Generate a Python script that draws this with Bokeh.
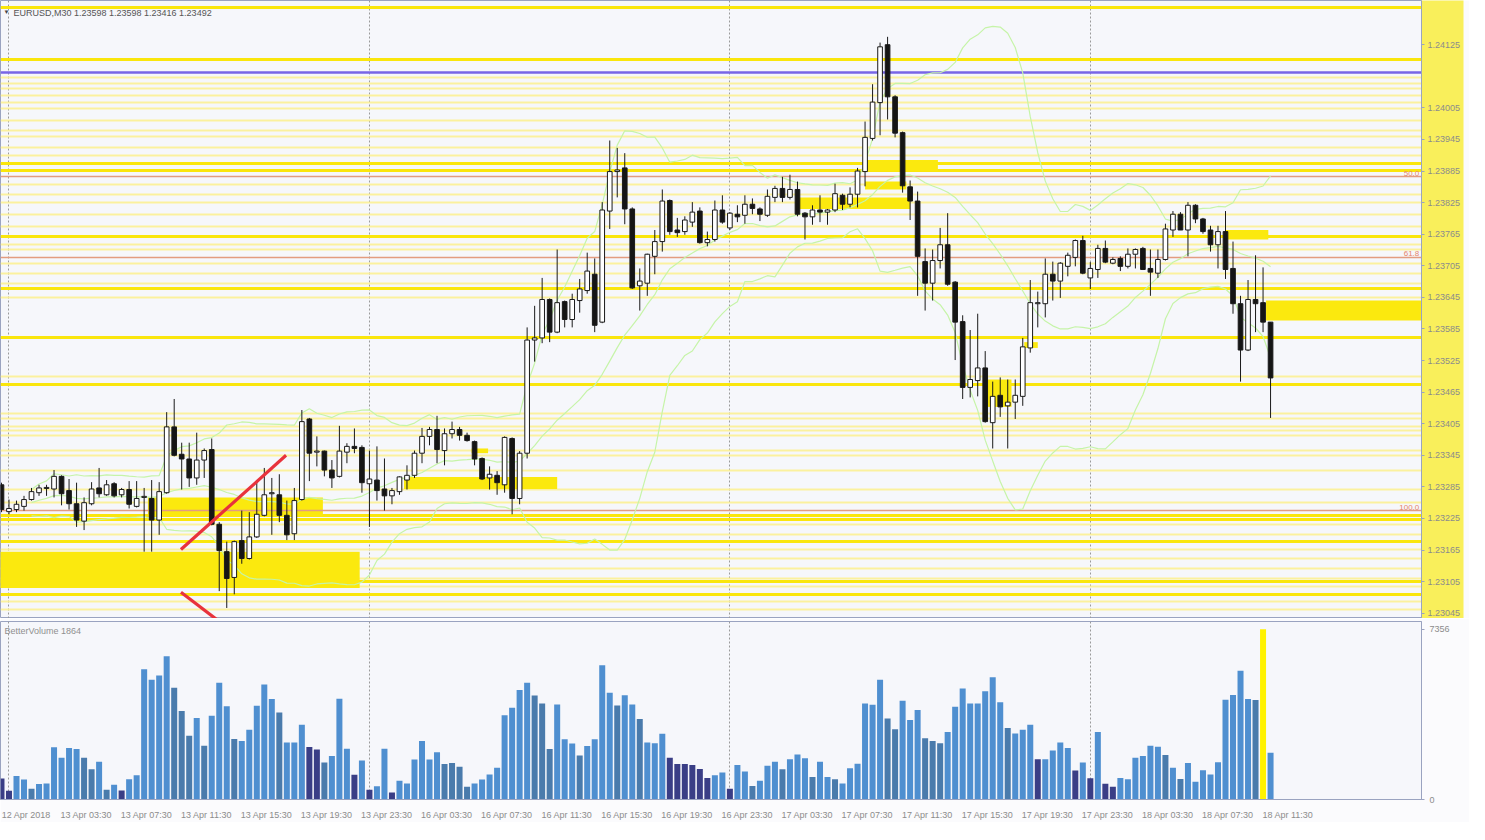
import numpy as np
import pandas as pd
from bokeh.plotting import figure
from bokeh.models import Range1d, FixedTicker, PrintfTickFormatter, Label, ColumnDataSource
from bokeh.layouts import column
from bokeh.embed import file_html
from bokeh.resources import INLINE
from bokeh.core.properties import value

SYMBOL = "EURUSD,M30"
VOLUME_NAME = "BetterVolume 1864"

opens = [1.23289, 1.23238, 1.23242, 1.23248, 1.23261, 1.23274, 1.23282, 1.23281, 1.23305, 1.23278,
         1.23253, 1.23220, 1.23253, 1.23283, 1.23270, 1.23291, 1.23270, 1.23280, 1.23248, 1.23265,
         1.23263, 1.23222, 1.23274, 1.23399, 1.23347, 1.23338, 1.23302, 1.23336, 1.23356, 1.23214,
         1.23162, 1.23113, 1.23183, 1.23149, 1.23190, 1.23231, 1.23272, 1.23270, 1.23231, 1.23196,
         1.23261, 1.23414, 1.23351, 1.23353, 1.23317, 1.23305, 1.23351, 1.23362, 1.23360, 1.23291,
         1.23298, 1.23281, 1.23268, 1.23276, 1.23298, 1.23307, 1.23349, 1.23381, 1.23394, 1.23354,
         1.23386, 1.23394, 1.23383, 1.23371, 1.23339, 1.23302, 1.23307, 1.23289, 1.23377, 1.23263,
         1.23349, 1.23564, 1.23568, 1.23641, 1.23579, 1.23637, 1.23603, 1.23639, 1.23658, 1.23689,
         1.23598, 1.23809, 1.23884, 1.23891, 1.23813, 1.23667, 1.23672, 1.23723, 1.23751, 1.23829,
         1.23773, 1.23770, 1.23788, 1.23809, 1.23749, 1.23755, 1.23811, 1.23777, 1.23803, 1.23801,
         1.23822, 1.23813, 1.23801, 1.23835, 1.23852, 1.23835, 1.23850, 1.23805, 1.23798, 1.23811,
         1.23807, 1.23811, 1.23839, 1.23822, 1.23841, 1.23884, 1.23947, 1.24015, 1.24125, 1.24026,
         1.23958, 1.23855, 1.23828, 1.23713, 1.23672, 1.23715, 1.23745, 1.23674, 1.23599, 1.23474,
         1.23487, 1.23511, 1.23407, 1.23459, 1.23439, 1.23446, 1.23457, 1.23549, 1.23633, 1.23633,
         1.23689, 1.23676, 1.23704, 1.23721, 1.23753, 1.23682, 1.23698, 1.23738, 1.23710, 1.23719,
         1.23704, 1.23727, 1.23738, 1.23700, 1.23691, 1.23717, 1.23773, 1.23803, 1.23773, 1.23820,
         1.23794, 1.23773, 1.23745, 1.23770, 1.23700, 1.23633, 1.23545, 1.23641, 1.23635, 1.23598]
highs = [1.23293, 1.23261, 1.23259, 1.23268, 1.23283, 1.23289, 1.23289, 1.23317, 1.23307, 1.23300,
         1.23293, 1.23265, 1.23294, 1.23321, 1.23298, 1.23294, 1.23283, 1.23296, 1.23296, 1.23283,
         1.23298, 1.23294, 1.23427, 1.23452, 1.23369, 1.23369, 1.23388, 1.23358, 1.23377, 1.23218,
         1.23181, 1.23183, 1.23240, 1.23237, 1.23298, 1.23321, 1.23302, 1.23309, 1.23259, 1.23283,
         1.23431, 1.23416, 1.23381, 1.23354, 1.23336, 1.23401, 1.23368, 1.23396, 1.23364, 1.23354,
         1.23362, 1.23339, 1.23283, 1.23305, 1.23326, 1.23354, 1.23397, 1.23399, 1.23420, 1.23396,
         1.23409, 1.23399, 1.23388, 1.23373, 1.23341, 1.23324, 1.23315, 1.23381, 1.23379, 1.23353,
         1.23588, 1.23629, 1.23682, 1.23643, 1.23736, 1.23639, 1.23652, 1.23680, 1.23730, 1.23719,
         1.23826, 1.23943, 1.23929, 1.23919, 1.23816, 1.23700, 1.23728, 1.23773, 1.23850, 1.23831,
         1.23796, 1.23799, 1.23826, 1.23816, 1.23770, 1.23829, 1.23839, 1.23807, 1.23820, 1.23839,
         1.23833, 1.23816, 1.23850, 1.23857, 1.23874, 1.23878, 1.23865, 1.23807, 1.23820, 1.23839,
         1.23813, 1.23861, 1.23842, 1.23854, 1.23891, 1.23979, 1.24050, 1.24129, 1.24140, 1.24029,
         1.23960, 1.23867, 1.23846, 1.23738, 1.23736, 1.23777, 1.23805, 1.23676, 1.23611, 1.23583,
         1.23614, 1.23543, 1.23485, 1.23493, 1.23489, 1.23489, 1.23568, 1.23678, 1.23656, 1.23719,
         1.23713, 1.23712, 1.23730, 1.23755, 1.23762, 1.23712, 1.23745, 1.23753, 1.23721, 1.23723,
         1.23738, 1.23738, 1.23741, 1.23736, 1.23736, 1.23785, 1.23809, 1.23807, 1.23826, 1.23822,
         1.23796, 1.23781, 1.23781, 1.23809, 1.23751, 1.23648, 1.23678, 1.23725, 1.23702, 1.23598]
lows = [1.23237, 1.23233, 1.23237, 1.23240, 1.23259, 1.23268, 1.23268, 1.23265, 1.23250, 1.23242,
        1.23209, 1.23203, 1.23250, 1.23265, 1.23268, 1.23265, 1.23265, 1.23244, 1.23246, 1.23162,
        1.23162, 1.23194, 1.23272, 1.23343, 1.23280, 1.23285, 1.23289, 1.23302, 1.23212, 1.23087,
        1.23055, 1.23081, 1.23139, 1.23147, 1.23188, 1.23229, 1.23194, 1.23218, 1.23184, 1.23184,
        1.23259, 1.23296, 1.23324, 1.23305, 1.23283, 1.23303, 1.23330, 1.23349, 1.23274, 1.23209,
        1.23259, 1.23240, 1.23252, 1.23270, 1.23280, 1.23302, 1.23330, 1.23364, 1.23330, 1.23326,
        1.23377, 1.23373, 1.23371, 1.23326, 1.23298, 1.23280, 1.23270, 1.23274, 1.23233, 1.23252,
        1.23339, 1.23523, 1.23558, 1.23560, 1.23577, 1.23588, 1.23588, 1.23616, 1.23652, 1.23579,
        1.23596, 1.23775, 1.23835, 1.23784, 1.23661, 1.23620, 1.23648, 1.23689, 1.23732, 1.23764,
        1.23760, 1.23764, 1.23779, 1.23747, 1.23742, 1.23751, 1.23785, 1.23773, 1.23788, 1.23785,
        1.23803, 1.23790, 1.23798, 1.23826, 1.23826, 1.23831, 1.23799, 1.23755, 1.23783, 1.23788,
        1.23783, 1.23807, 1.23811, 1.23816, 1.23816, 1.23856, 1.23943, 1.23953, 1.23983, 1.23949,
        1.23844, 1.23792, 1.23648, 1.23620, 1.23639, 1.23700, 1.23667, 1.23526, 1.23452, 1.23455,
        1.23457, 1.23407, 1.23358, 1.23418, 1.23358, 1.23414, 1.23439, 1.23540, 1.23588, 1.23607,
        1.23639, 1.23644, 1.23685, 1.23704, 1.23689, 1.23661, 1.23682, 1.23710, 1.23708, 1.23695,
        1.23700, 1.23700, 1.23697, 1.23648, 1.23682, 1.23715, 1.23760, 1.23773, 1.23723, 1.23786,
        1.23766, 1.23732, 1.23700, 1.23680, 1.23614, 1.23485, 1.23543, 1.23579, 1.23579, 1.23416]
closes = [1.23242, 1.23244, 1.23252, 1.23261, 1.23276, 1.23283, 1.23284, 1.23305, 1.23272, 1.23253,
          1.23222, 1.23255, 1.23281, 1.23272, 1.23289, 1.23268, 1.23280, 1.23252, 1.23263, 1.23267,
          1.23222, 1.23276, 1.23399, 1.23345, 1.23338, 1.23302, 1.23336, 1.23354, 1.23214, 1.23164,
          1.23111, 1.23181, 1.23149, 1.23190, 1.23233, 1.23270, 1.23274, 1.23231, 1.23194, 1.23259,
          1.23409, 1.23349, 1.23353, 1.23317, 1.23302, 1.23353, 1.23362, 1.23358, 1.23293, 1.23300,
          1.23278, 1.23268, 1.23278, 1.23304, 1.23307, 1.23349, 1.23381, 1.23394, 1.23356, 1.23386,
          1.23394, 1.23383, 1.23373, 1.23338, 1.23300, 1.23309, 1.23293, 1.23379, 1.23263, 1.23349,
          1.23564, 1.23568, 1.23641, 1.23579, 1.23635, 1.23603, 1.23641, 1.23661, 1.23695, 1.23592,
          1.23811, 1.23884, 1.23887, 1.23813, 1.23663, 1.23676, 1.23727, 1.23751, 1.23828, 1.23770,
          1.23768, 1.23792, 1.23807, 1.23749, 1.23755, 1.23811, 1.23788, 1.23805, 1.23798, 1.23822,
          1.23814, 1.23803, 1.23837, 1.23852, 1.23835, 1.23850, 1.23803, 1.23798, 1.23811, 1.23807,
          1.23811, 1.23842, 1.23822, 1.23841, 1.23885, 1.23949, 1.24016, 1.24121, 1.24026, 1.23957,
          1.23857, 1.23828, 1.23723, 1.23672, 1.23715, 1.23745, 1.23670, 1.23598, 1.23474, 1.23489,
          1.23511, 1.23409, 1.23457, 1.23437, 1.23446, 1.23459, 1.23551, 1.23635, 1.23635, 1.23689,
          1.23676, 1.23710, 1.23725, 1.23753, 1.23691, 1.23700, 1.23738, 1.23712, 1.23717, 1.23704,
          1.23727, 1.23736, 1.23698, 1.23693, 1.23717, 1.23775, 1.23803, 1.23773, 1.23820, 1.23794,
          1.23770, 1.23745, 1.23770, 1.23698, 1.23633, 1.23545, 1.23641, 1.23633, 1.23598, 1.23492]

volumes = [904, 375, 1015, 862, 459, 667, 695, 2252, 1807, 2224,
           2182, 1807, 1307, 1626, 417, 639, 389, 876, 1043, 5630,
           5171, 5352, 6186, 4823, 3823, 2752, 3517, 2321, 3614, 5046,
           4031, 2613, 2530, 3016, 4045, 4962, 4337, 3753, 2460, 2460,
           3225, 2266, 2155, 1599, 1877, 4351, 2196, 1070, 1682, 417,
           570, 2196, 306, 806, 695, 1724, 2530, 1724, 2043, 1529,
           1571, 1418, 556, 695, 862, 1084, 1376, 3642, 3962, 4726,
           5046, 4490, 4142, 2182, 4101, 2599, 2419, 1904, 2307, 2599,
           5796, 4615, 4059, 4504, 4101, 3475, 2460, 2433, 2836, 1807,
           1529, 1529, 1487, 1321, 931, 1043, 1168, 459, 1487, 1209,
           584, 806, 1460, 1626, 1307, 1738, 1946, 1779, 973, 1626,
           973, 876, 695, 1348, 1543, 4142, 4087, 5171, 3503, 3030,
           4267, 3433, 3864, 2641, 2530, 2433, 2919, 4003, 4796, 4142,
           4142, 4670, 5282, 4198, 3086, 2850, 3016, 3225, 1738, 1738,
           2113, 2460, 2224, 1251, 1599, 917, 2919, 681, 556, 931,
           876, 1807, 1877, 2321, 2280, 1918, 1376, 890, 1571, 765,
           1265, 1084, 1612, 4309, 4518, 5560, 4337, 4295, 7356, 2016]
# b = normal, s = darker, n = low volume, y = climax
volume_class = list("nnbbsbbbbb" "bssbsbnbbb" "bbbsssbsbb" "bsbbbbbsbb" "bnnsbbbnbn"
                    "bbnbbbbbbs" "sssbbbbbbb" "bsssbbbsbb" "bbsbbsbbbn" "nnnnnbbnbb"
                    "sbbbsbbbsb" "bsbbbbbbss" "bbbsssbbbb" "bbbbsbbbnb" "bbbnbnbnnb"
                    "bbbbbsbsbb" "bbbbbbbsyb")

time_tick_bars = [0, 8, 16, 24, 32, 40, 48, 56, 64, 72, 80, 88, 96, 104, 112, 120, 128, 136, 144, 152, 160, 168]
time_tick_labels = ["12 Apr 2018", "13 Apr 03:30", "13 Apr 07:30", "13 Apr 11:30", "13 Apr 15:30",
                    "13 Apr 19:30", "13 Apr 23:30", "16 Apr 03:30", "16 Apr 07:30", "16 Apr 11:30",
                    "16 Apr 15:30", "16 Apr 19:30", "16 Apr 23:30", "17 Apr 03:30", "17 Apr 07:30",
                    "17 Apr 11:30", "17 Apr 15:30", "17 Apr 19:30", "17 Apr 23:30", "18 Apr 03:30",
                    "18 Apr 07:30", "18 Apr 11:30"]
day_start_bars = [1, 49, 97, 145]
price_ticks = [1.23045, 1.23105, 1.23165, 1.23225, 1.23285, 1.23345, 1.23405, 1.23465, 1.23525,
               1.23585, 1.23645, 1.23705, 1.23765, 1.23825, 1.23885, 1.23945, 1.24005, 1.24125]

bright_levels = [1.24196, 1.24097, 1.23900, 1.23887, 1.23760, 1.23661, 1.23569, 1.23480,
                 1.23231, 1.23224, 1.23181, 1.23106, 1.23081]
light_levels = [1.24063, 1.24052, 1.24041, 1.24028, 1.24016, 1.24003, 1.23981, 1.23962, 1.23951,
                1.23929, 1.23915, 1.23859, 1.23841, 1.23826, 1.23803, 1.23779, 1.23745, 1.23736,
                1.23710, 1.23691, 1.23672, 1.23644, 1.23495, 1.23424, 1.23414, 1.23399, 1.23392,
                1.23382, 1.23354, 1.23345, 1.23317, 1.23280, 1.23255, 1.23214, 1.23194, 1.23166,
                1.23149, 1.23130, 1.23111, 1.23096, 1.23068, 1.23053]
fib_levels = [1.23874, 1.23721, 1.23240]
fib_labels = ["50.0", "61.8", "100.0"]
ask_level = 1.24072

zone_bar_start = [-0.2, 19.5, 53.6, 62.6, 106.0, 115.0, 115.0, 163.0, 168.4, 131.0, 136.2]
zone_bar_end = [47.7, 42.8, 74.0, 64.8, 121.0, 124.7, 120.5, 168.7, 189.5, 134.5, 138.0]
zone_top = [1.23162, 1.23265, 1.23304, 1.23358, 1.23835, 1.23906, 1.23865, 1.23773, 1.23639, 1.23489, 1.23560]
zone_bottom = [1.23093, 1.23229, 1.23281, 1.23349, 1.23813, 1.23885, 1.23850, 1.23755, 1.23601, 1.23437, 1.23549]

trend_bar0 = [23.9, 23.9]
trend_price0 = [1.23166, 1.23085]
trend_bar1 = [37.9, 29.4]
trend_price1 = [1.23345, 1.23025]

# ---------------------------------------------------------------
BG = "#f6f7fb"
FONT = "Liberation Sans"
X0, X1 = -0.13, 189.1
Y0, Y1 = 1.23035, 1.24209
W = 1469

n = len(closes)
bars = np.arange(n)
o = np.array(opens); h = np.array(highs); l = np.array(lows); c = np.array(closes)
up = c >= o

cl = pd.Series(closes)
mid = cl.rolling(20, min_periods=5).mean()
sd = cl.rolling(20, min_periods=5).std(ddof=0)
bb_up = mid + 2 * sd
bb_dn = mid - 2 * sd

p = figure(width=W, height=618, x_range=Range1d(X0, X1), y_range=Range1d(Y0, Y1),
           output_backend="svg", toolbar_location=None, x_axis_location=None,
           y_axis_location="right", min_border_left=0, min_border_right=48,
           min_border_top=0, min_border_bottom=0, background_fill_color=BG,
           border_fill_color="#fbfbfd", outline_line_color="#9aa3c0")
p.grid.visible = False

ya = p.yaxis[0]
ya.ticker = FixedTicker(ticks=price_ticks)
ya.formatter = PrintfTickFormatter(format="%.5f")
ya.major_label_text_font = FONT
ya.major_label_text_font_size = "9px"
ya.major_label_text_color = "#8c8c8c"
ya.axis_line_color = "#9aa3c0"
ya.major_tick_line_color = "#9aa3c0"
ya.major_tick_out = 3
ya.major_tick_in = 0
ya.minor_tick_line_color = None
ya.major_label_standoff = 3
if hasattr(ya, "background_fill_color"):
    ya.background_fill_color = "#f8ec3e"
    ya.background_fill_alpha = 0.85

# day separators
p.vspan(x=day_start_bars, line_color="#9a9a9a", line_dash="2 2", line_width=1)

# horizontal levels
p.hspan(y=light_levels, line_color="#fcf094", line_width=2, line_alpha=0.9)
p.hspan(y=bright_levels, line_color="#fae60c", line_width=3)
p.quad(left=zone_bar_start, right=zone_bar_end, top=zone_top, bottom=zone_bottom,
       fill_color="#fbe90e", line_color=None)
p.hspan(y=fib_levels, line_color="#e39c80", line_width=1.5)
p.text(x=[X1 - 0.3] * len(fib_levels), y=fib_levels, text=fib_labels, text_align="right",
       text_baseline="bottom", text_color="#e5866a", text_font_size="8px",
       text_font=value(FONT), y_offset=-1)
p.hspan(y=[ask_level], line_color="#7866e6", line_width=2.5)

# bollinger bands
for band in (bb_up, mid, bb_dn):
    p.line(bars, band.values, line_color="#c6f4a8", line_width=1.2)

# candles
p.segment(x0=bars, y0=l, x1=bars, y1=h, line_color="#1a1a1a", line_width=1)
src_up = ColumnDataSource(dict(x=bars[up], top=c[up], bottom=o[up]))
src_dn = ColumnDataSource(dict(x=bars[~up], top=o[~up], bottom=c[~up]))
p.vbar(x="x", top="top", bottom="bottom", width=0.62, source=src_up,
       fill_color="white", line_color="#1a1a1a", line_width=1)
p.vbar(x="x", top="top", bottom="bottom", width=0.62, source=src_dn,
       fill_color="#151515", line_color="#1a1a1a", line_width=1)

# trend lines
p.segment(x0=trend_bar0, y0=trend_price0, x1=trend_bar1, y1=trend_price1,
          line_color="#e8323c", line_width=3.2)

title_txt = f"{SYMBOL}  {opens[-1]:.5f} {highs[-1]:.5f} {lows[-1]:.5f} {closes[-1]:.5f}"
p.add_layout(Label(x=X0, y=Y1, x_offset=3, y_offset=-8, text="\u25BC", text_font_size="6px",
                   text_color="#444444", text_baseline="top"))
p.add_layout(Label(x=X0, y=Y1, x_offset=13, y_offset=-7, text=title_txt, text_font=FONT,
                   text_font_size="9px", text_color="#555555", text_baseline="top"))

# ---------------- volume panel ----------------
vol_colors = {"b": "#4f8fd0", "s": "#4a7bac", "n": "#3a3e86", "y": "#fff200"}
vmax = max(volumes)
v = figure(width=W, height=204, x_range=p.x_range, y_range=Range1d(0, vmax * 1.045),
           output_backend="svg", toolbar_location=None, y_axis_location="right",
           min_border_left=0, min_border_right=48, min_border_top=3, min_border_bottom=0,
           background_fill_color=BG, border_fill_color="#fbfbfd", outline_line_color="#9aa3c0")
v.grid.visible = False
v.vspan(x=day_start_bars, line_color="#9a9a9a", line_dash="2 2", line_width=1)
v.vbar(x=bars, top=volumes, bottom=0, width=0.8,
       fill_color=[vol_colors[k] for k in volume_class], line_color=None)
v.add_layout(Label(x=X0, y=vmax * 1.045, x_offset=4, y_offset=-4, text=VOLUME_NAME,
                   text_font=FONT, text_font_size="9px", text_color="#909090", text_baseline="top"))

vy = v.yaxis[0]
vy.ticker = FixedTicker(ticks=[0, vmax])
vy.major_label_text_font = FONT
vy.major_label_text_font_size = "9px"
vy.major_label_text_color = "#8c8c8c"
vy.axis_line_color = "#9aa3c0"
vy.major_tick_line_color = "#9aa3c0"
vy.major_tick_out = 3
vy.major_tick_in = 0
vy.minor_tick_line_color = None

LABEL_SHIFT = 3.3
xa = v.xaxis[0]
tick_pos = [round(b + LABEL_SHIFT, 2) for b in time_tick_bars]
xa.ticker = FixedTicker(ticks=tick_pos)
xa.major_label_overrides = {t: s for t, s in zip(tick_pos, time_tick_labels)}
xa.major_label_text_font = FONT
xa.major_label_text_font_size = "9px"
xa.major_label_text_color = "#8c8c8c"
xa.axis_line_color = "#9aa3c0"
xa.major_tick_line_color = None
xa.minor_tick_line_color = None
xa.major_label_standoff = 4

layout = column(p, v, spacing=0)
open("out.html", "w").write(file_html(layout, INLINE))
